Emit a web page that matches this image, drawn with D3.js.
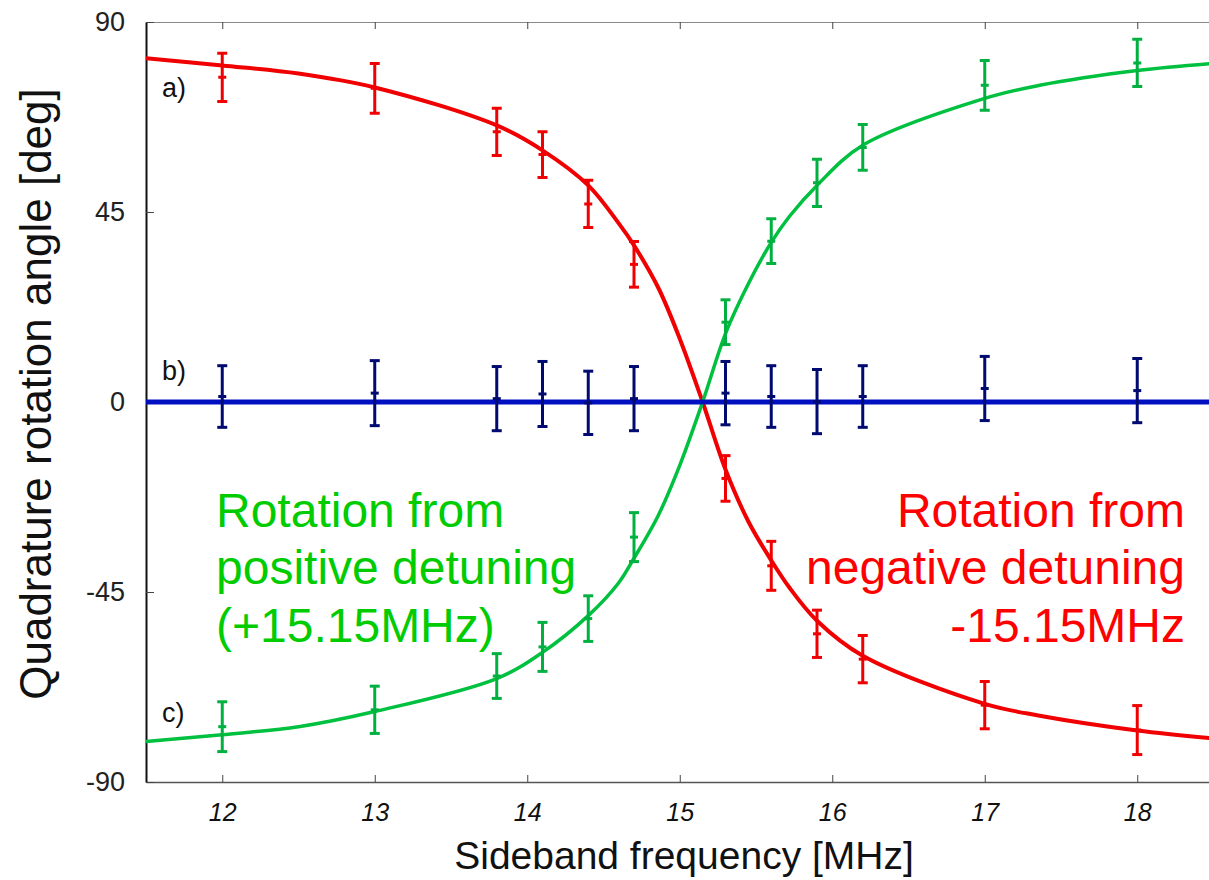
<!DOCTYPE html>
<html>
<head>
<meta charset="utf-8">
<script src="https://cdn.jsdelivr.net/npm/d3@7"></script>
<style>
  html, body { margin: 0; padding: 0; background: #fff; overflow: hidden; }
  svg { display: block; font-family: "Liberation Sans", Arial, Helvetica, sans-serif; }
</style>
</head>
<body>
<svg id="chart" width="1209" height="880"></svg>
<script>
// Measured sideband frequencies [MHz]
const freqs = [12, 13, 13.8, 14.1, 14.4, 14.7, 15.3, 15.6, 15.9, 16.2, 17, 18];

// a) rotation from negative detuning (-15.15 MHz)
const redAngles = [76.9, 74.3, 64.0, 58.6, 46.9, 32.6, -18.1, -38.8, -54.9, -60.9, -71.8, -77.7];
const redErrors = [5.7, 5.9, 5.6, 5.4, 5.6, 5.4, 5.4, 5.8, 5.6, 5.6, 5.6, 5.8];

// c) rotation from positive detuning (+15.15 MHz)
const greenAngles = [-76.9, -72.9, -64.9, -58.0, -51.3, -32.0, 18.9, 38.1, 51.9, 60.3, 75.0, 80.3];
const greenErrors = [5.9, 5.6, 5.3, 5.8, 5.4, 5.8, 5.3, 5.3, 5.6, 5.4, 5.9, 5.6];

// b) both detunings together
const blueAngles = [1.3, 2.1, 0.8, 1.9, -0.2, 0.8, 2.1, 1.3, 0.1, 1.3, 3.2, 2.7];
const blueErrors = [7.3, 7.7, 7.6, 7.7, 7.5, 7.6, 7.5, 7.3, 7.6, 7.3, 7.6, 7.6];

// Fitted model curves, sampled along the frequency axis
const fitFreqs = [11.5, 12, 12.5, 13, 13.8, 14.1, 14.4, 14.6, 14.7, 14.86, 15.0, 15.15, 15.3, 15.45, 15.6, 15.72, 15.9, 16.2, 17.0, 17.36, 18, 18.5];
const redFit = [81.4, 79.7, 77.8, 74.5, 65.5, 59.6, 51.3, 42.3, 37.1, 27.0, 15.0, 0, -16.0, -28.3, -37.5, -44, -51.8, -60.1, -71.5, -74.3, -77.8, -79.7];
const greenFit = [-80.4, -78.8, -76.9, -73.3, -65.5, -59.3, -50.6, -42.8, -37.0, -26.8, -15.0, 0, 16.2, 28.0, 37.8, 44, 51.3, 60.8, 71.9, 75.0, 78.5, 80.2];
const blueFitFreqs = [11.5, 18.5];
const blueFit = [0, 0];

// Axis ticks
const xTicks = [12, 13, 14, 15, 16, 17, 18];
const yTicks = [-90, -45, 0, 45, 90];
const yTickLabels = ["-90", "-45", "0", "45", "90"];

const svg = d3.select("#chart");
const plotLeft = 146, plotTop = 22, plotBottom = 782, plotRight = 1213.5;
const x = d3.scaleLinear().domain([11.5, 18.5]).range([plotLeft, plotRight]);
const y = d3.scaleLinear().domain([-90, 90]).range([plotBottom, plotTop]);

svg.append("defs").append("clipPath").attr("id", "plot")
  .append("rect").attr("x", plotLeft).attr("y", plotTop)
  .attr("width", plotRight - plotLeft).attr("height", plotBottom - plotTop);

// Axes
const gx = svg.append("g").attr("transform", `translate(0,${plotBottom})`)
  .call(d3.axisBottom(x).tickValues(xTicks).tickSizeInner(-7).tickSizeOuter(0).tickPadding(21).tickFormat(d => String(d)));
gx.select(".domain").attr("stroke", "#555").attr("stroke-width", 1.5);
gx.selectAll(".tick line").attr("stroke", "#444").attr("stroke-width", 1);
gx.selectAll(".tick text").attr("fill", "#111").style("font-size", "25px").style("font-style", "italic");

const gt = svg.append("g").attr("transform", `translate(0,${plotTop})`)
  .call(d3.axisTop(x).tickValues(xTicks).tickSizeInner(-7).tickSizeOuter(0).tickFormat(""));
gt.select(".domain").attr("stroke", "#888").attr("stroke-width", 1.2);
gt.selectAll(".tick line").attr("stroke", "#444").attr("stroke-width", 1);

const gy = svg.append("g").attr("transform", `translate(${plotLeft},0)`)
  .call(d3.axisLeft(y).tickValues(yTicks).tickSizeInner(-8).tickSizeOuter(0).tickPadding(21)
    .tickFormat((d, i) => yTickLabels[i]));
gy.select(".domain").attr("stroke", "#111").attr("stroke-width", 2);
gy.selectAll(".tick line").attr("stroke", "#444").attr("stroke-width", 1);
gy.selectAll(".tick text").attr("fill", "#222").style("font-size", "27px");

// Axis titles
svg.append("text").attr("x", 684).attr("y", 869).attr("text-anchor", "middle")
  .style("font-size", "39px").attr("fill", "#111").text("Sideband frequency [MHz]");
svg.append("text").attr("transform", "translate(51,394) rotate(-90)").attr("text-anchor", "middle")
  .style("font-size", "44px").attr("fill", "#111").text("Quadrature rotation angle [deg]");

// Fit curves
const plot = svg.append("g").attr("clip-path", "url(#plot)");
const line = d3.line().x(d => x(d[0])).y(d => y(d[1])).curve(d3.curveCatmullRom.alpha(0.5));
plot.append("path").datum(d3.zip(fitFreqs, redFit)).attr("d", line)
  .attr("fill", "none").attr("stroke", "#f00000").attr("stroke-width", 4);
plot.append("path").datum(d3.zip(fitFreqs, greenFit)).attr("d", line)
  .attr("fill", "none").attr("stroke", "#00c040").attr("stroke-width", 3.5);
plot.append("path").datum(d3.zip(blueFitFreqs, blueFit)).attr("d", line)
  .attr("fill", "none").attr("stroke", "#0010c0").attr("stroke-width", 5);

// Error bars with centre markers
function errorBars(vals, errs, color, width) {
  const g = plot.append("g").attr("stroke", color).attr("stroke-width", width).attr("fill", "none");
  const data = d3.zip(freqs, vals, errs);
  const cap = 5, mark = 4;
  g.selectAll(".bar").data(data).join("line")
    .attr("x1", d => x(d[0])).attr("x2", d => x(d[0]))
    .attr("y1", d => y(d[1] + d[2])).attr("y2", d => y(d[1] - d[2]));
  g.selectAll(".capT").data(data).join("line")
    .attr("x1", d => x(d[0]) - cap).attr("x2", d => x(d[0]) + cap)
    .attr("y1", d => y(d[1] + d[2])).attr("y2", d => y(d[1] + d[2]));
  g.selectAll(".capB").data(data).join("line")
    .attr("x1", d => x(d[0]) - cap).attr("x2", d => x(d[0]) + cap)
    .attr("y1", d => y(d[1] - d[2])).attr("y2", d => y(d[1] - d[2]));
  g.selectAll(".mid").data(data).join("line")
    .attr("x1", d => x(d[0]) - mark).attr("x2", d => x(d[0]) + mark)
    .attr("y1", d => y(d[1])).attr("y2", d => y(d[1]));
}
errorBars(redAngles, redErrors, "#f00000", 3);
errorBars(greenAngles, greenErrors, "#00b040", 3);
errorBars(blueAngles, blueErrors, "#000a70", 3);

// Panel letters
const letters = [["a)", 97], ["b)", 380], ["c)", 722]];
svg.selectAll(".letter").data(letters).join("text")
  .attr("x", 162).attr("y", d => d[1]).style("font-size", "27px").attr("fill", "#111").text(d => d[0]);

// Annotations
const greenText = ["Rotation from", "positive detuning", "(+15.15MHz)"];
const redText = ["Rotation from", "negative detuning", "-15.15MHz"];
const baselines = [527, 584, 642];
svg.selectAll(".gt").data(greenText).join("text")
  .attr("x", 216).attr("y", (d, i) => baselines[i]).style("font-size", "48px").attr("fill", "#00cc00").text(d => d);
svg.selectAll(".rt").data(redText).join("text")
  .attr("x", 1185).attr("y", (d, i) => baselines[i]).attr("text-anchor", "end")
  .style("font-size", "48px").attr("fill", "#ff0000").text(d => d);
</script>
</body>
</html>
